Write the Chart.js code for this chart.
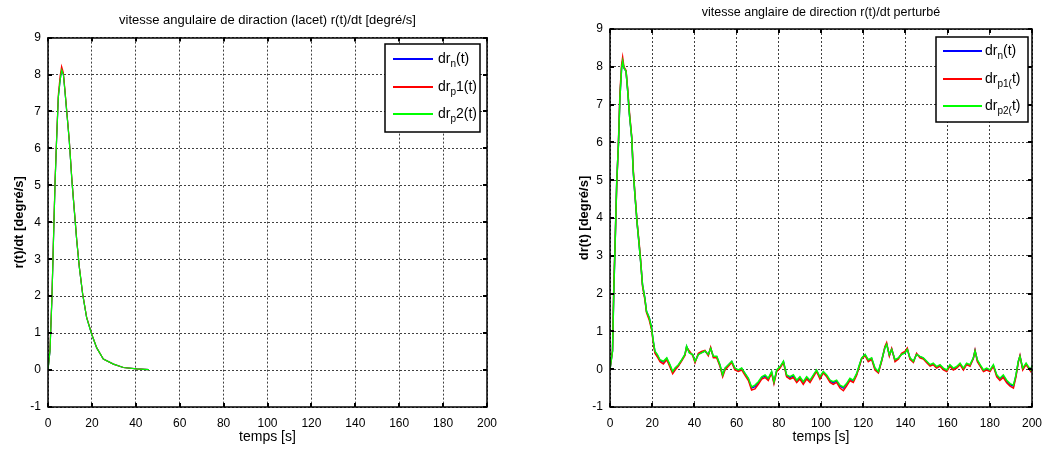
<!DOCTYPE html>
<html><head><meta charset="utf-8">
<script src="https://cdn.jsdelivr.net/npm/chart.js@4"></script>
<style>
html,body{margin:0;padding:0;background:#fff;width:1044px;height:449px;overflow:hidden}
#c1{position:absolute;left:0;top:0}
#c2{position:absolute;left:540px;top:0}
</style></head><body>
<canvas id="c1" width="520" height="449"></canvas>
<canvas id="c2" width="504" height="449"></canvas>
<script>
// ---------- data ----------
const xMin = 0, xMax = 200, xStep = 20;
const yMin = -1, yMax = 9, yStep = 1;

const leftTitle = "vitesse angulaire de diraction (lacet) r(t)/dt [degré/s]";
const rightTitle = "vitesse anglaire de direction r(t)/dt perturbé";
const xLabel = "temps [s]";
const leftYLabel = "r(t)/dt [degré/s]";
const rightYLabel = "dr(t) [degré/s]";

const leftLegend = [["dr","n","(t)"],["dr","p","1(t)"],["dr","p","2(t)"]];
const rightLegend = [["dr","n","(t)"],["dr","p1(","t)"],["dr","p2(","t)"]];

const leftT  = [0,0.9,1.8,2.4,3.2,3.9,4.7,5.5,6.2,7.0,7.7,8.5,9.7,10.9,12,13.1,14.3,15.8,17.6,19.9,22.2,25.2,29.8,34.3,40.4,46];
const leftN  = [0,0.51,1.96,3.3,5.03,6.2,7.38,7.83,8.12,8.0,7.56,7.02,6.2,5.12,4.31,3.5,2.77,2.05,1.42,0.97,0.6,0.3,0.16,0.07,0.03,0.01];
const leftP1 = [0,0.55,2.0,3.35,5.1,6.25,7.45,7.95,8.22,8.05,7.6,7.05,6.22,5.15,4.33,3.52,2.78,2.06,1.43,0.98,0.6,0.3,0.16,0.07,0.03,0.01];
const leftP2 = [0,0.51,1.96,3.3,5.03,6.2,7.38,7.83,8.12,8.0,7.56,7.02,6.2,5.12,4.31,3.5,2.77,2.05,1.42,0.97,0.6,0.3,0.16,0.07,0.03,0.01];

const rightT = [0,0.3,1.2,1.8,2.5,3.2,4,4.7,5.5,6,6.6,7.6,8.4,9.2,10.3,11,11.8,12.9,13.8,14.5,15.4,16.5,17.3,18.6,19.7,
 20.5,21.3,22.4,23.7,25.3,26.9,28.4,29.7,30.8,32.4,
 34,35.5,36.3,37.6,39.2,40.3,41.9,43.4,45,46.6,
 47.7,49,50.6,52.1,53.4,54.5,56.1,57.7,59.2,60.8,
 62.4,64,65.6,67.1,68.7,70.3,71.9,73.5,75,76.6,
 77.7,79,80.6,82.2,83.7,85.3,86.9,88.5,90,91.6,
 93.2,94.8,96.4,97.9,99.5,101.1,102.7,104.3,105.8,107.4,
 109,110.6,112.1,113.7,115.3,116.9,118.2,119.3,120.9,122.4,
 124,125.6,127.2,128.8,130.3,131.1,132.4,133.5,135.1,136.7,
 138.2,139.8,140.9,142.2,143.8,145.3,146.9,148.5,150.1,151.7,
 153.2,154.8,156.4,158,159.6,161.1,162.7,164.3,165.9,167.5,
 169,170.6,172.2,173,174.1,175.4,177,178.5,180.1,181.7,
 183.3,184.8,186.4,188,189.6,191.2,192.4,193.5,194.3,195.6,
 197.2,198.3,199.4,200];
const rightP2 = [0,0,0.48,2.06,3.47,4.97,5.95,7.18,7.97,8.15,7.97,7.88,7.35,6.74,6.12,5.24,4.62,3.83,3.3,2.86,2.24,1.89,1.53,1.36,1.09,
 0.75,0.48,0.39,0.25,0.21,0.3,0.12,-0.06,0.03,0.12,
 0.25,0.39,0.61,0.43,0.39,0.21,0.39,0.43,0.48,0.39,
 0.55,0.34,0.34,0.12,-0.15,0.03,0.12,0.21,0.03,-0.02,
 0.03,-0.11,-0.24,-0.47,-0.42,-0.33,-0.2,-0.15,-0.24,-0.06,
 -0.33,-0.02,0.07,0.21,-0.15,-0.2,-0.15,-0.29,-0.2,-0.33,
 -0.2,-0.29,-0.15,-0.02,-0.2,-0.06,-0.15,-0.29,-0.33,-0.29,
 -0.42,-0.47,-0.38,-0.24,-0.29,-0.11,0.12,0.3,0.39,0.25,
 0.3,0.03,-0.06,0.25,0.57,0.66,0.39,0.52,0.25,0.3,
 0.39,0.43,0.52,0.3,0.21,0.39,0.34,0.3,0.21,0.12,
 0.16,0.07,0.12,0.03,-0.02,0.12,0.03,0.07,0.16,0.03,
 0.16,0.12,0.3,0.48,0.25,0.12,-0.02,0.03,-0.02,0.12,
 -0.15,-0.24,-0.15,-0.29,-0.38,-0.42,-0.15,0.21,0.34,0.03,
 0.16,0.07,-0.02,0.1];
const rightP1 = [0,0,0.5,2.2,3.5,4.9,6.0,7.3,8.05,8.25,8.0,7.9,7.4,6.8,6.15,5.3,4.65,3.85,3.35,2.9,2.2,1.85,1.5,1.3,1.05,
 0.7,0.42,0.33,0.2,0.14,0.25,0.06,-0.12,-0.03,0.08,
 0.22,0.36,0.58,0.48,0.36,0.17,0.42,0.47,0.5,0.36,
 0.58,0.3,0.3,0.08,-0.2,-0.02,0.08,0.18,-0.02,-0.06,
 -0.02,-0.16,-0.3,-0.55,-0.52,-0.4,-0.26,-0.22,-0.3,-0.1,
 -0.38,-0.06,0.03,0.18,-0.2,-0.26,-0.22,-0.35,-0.26,-0.4,
 -0.26,-0.35,-0.2,-0.06,-0.26,-0.1,-0.2,-0.35,-0.4,-0.35,
 -0.5,-0.57,-0.45,-0.3,-0.35,-0.16,0.08,0.28,0.36,0.2,
 0.26,-0.02,-0.1,0.22,0.6,0.7,0.35,0.55,0.2,0.27,
 0.42,0.47,0.56,0.26,0.18,0.42,0.3,0.27,0.17,0.08,
 0.12,0.03,0.08,-0.02,-0.06,0.08,-0.02,0.03,0.12,-0.02,
 0.12,0.08,0.28,0.5,0.2,0.08,-0.06,-0.02,-0.06,0.08,
 -0.2,-0.3,-0.22,-0.36,-0.45,-0.5,-0.2,0.18,0.36,-0.02,
 0.12,0.03,-0.06,0.08];
const rightN = [0,0,0.48,2.06,3.47,4.97,5.95,7.18,7.97,8.15,7.97,7.88,7.35,6.74,6.12,5.24,4.62,3.83,3.3,2.86,2.24,1.89,1.53,1.36,1.09,
 0.74,0.46,0.37,0.23,0.19,0.28,0.1,-0.08,0.01,0.1,
 0.24,0.38,0.6,0.44,0.38,0.2,0.4,0.44,0.48,0.38,
 0.56,0.33,0.33,0.11,-0.17,0.02,0.11,0.2,0.02,-0.03,
 0.02,-0.12,-0.26,-0.5,-0.46,-0.36,-0.22,-0.18,-0.26,-0.08,
 -0.35,-0.04,0.05,0.2,-0.17,-0.22,-0.18,-0.31,-0.22,-0.35,
 -0.22,-0.31,-0.17,-0.04,-0.22,-0.08,-0.17,-0.31,-0.36,-0.31,
 -0.45,-0.5,-0.4,-0.26,-0.31,-0.13,0.1,0.29,0.38,0.23,
 0.28,0.01,-0.08,0.24,0.58,0.67,0.37,0.53,0.23,0.29,
 0.4,0.44,0.53,0.28,0.2,0.4,0.33,0.29,0.2,0.1,
 0.14,0.05,0.1,0.01,-0.04,0.1,0.01,0.05,0.14,0.01,
 0.14,0.1,0.29,0.49,0.23,0.1,-0.04,0.01,-0.04,0.1,
 -0.17,-0.26,-0.18,-0.32,-0.41,-0.45,-0.17,0.2,0.35,0.01,
 0.14,0.05,-0.04,0.09];

// ---------- helpers ----------
const FONT = '"Liberation Sans", Arial, sans-serif';
Chart.defaults.font.family = FONT;
Chart.defaults.color = '#000';
const COLORS = ['rgb(0,0,255)', 'rgb(255,0,0)', 'rgb(0,255,0)'];

function pts(t, v) { return t.map((tt, i) => ({x: tt, y: v[i]})); }

function makeFrame(box, legend) {
  return {
    id: 'frame',
    afterDraw(chart) {
      const {ctx, chartArea: a, scales: {x, y}} = chart;
      ctx.save();
      ctx.setLineDash([]);
      ctx.strokeStyle = '#000';
      ctx.lineWidth = 1.5;
      ctx.strokeRect(Math.round(a.left), Math.round(a.top), Math.round(a.right - a.left), Math.round(a.bottom - a.top));
      const L = 4;
      ctx.lineWidth = 2;
      ctx.beginPath();
      x.ticks.forEach(t => {
        const px = Math.round(x.getPixelForValue(t.value));
        ctx.moveTo(px, a.bottom); ctx.lineTo(px, a.bottom - L);
        ctx.moveTo(px, a.top); ctx.lineTo(px, a.top + L);
      });
      y.ticks.forEach(t => {
        const py = Math.round(y.getPixelForValue(t.value));
        ctx.moveTo(a.left, py); ctx.lineTo(a.left + L, py);
        ctx.moveTo(a.right, py); ctx.lineTo(a.right - L, py);
      });
      ctx.stroke();
      // legend box
      const bx = Math.round(a.right - box.dx - box.w), by = Math.round(a.top + box.dy);
      ctx.fillStyle = '#fff';
      ctx.fillRect(bx, by, box.w, box.h);
      ctx.lineWidth = 1.5;
      ctx.strokeStyle = '#000';
      ctx.strokeRect(bx, by, box.w, box.h);
      legend.forEach((lab, i) => {
        const yy = Math.round(by + box.row0 + i * box.gap);
        ctx.fillStyle = COLORS[i];
        ctx.fillRect(bx + box.lx, yy - 1, box.len, 2);
        ctx.fillStyle = '#000';
        ctx.textBaseline = 'middle';
        ctx.textAlign = 'left';
        let tx = bx + box.tx;
        ctx.font = box.fs + 'px ' + FONT;
        ctx.fillText(lab[0], tx, yy); tx += ctx.measureText(lab[0]).width;
        ctx.font = box.ss + 'px ' + FONT;
        ctx.fillText(lab[1], tx, yy + 5); tx += ctx.measureText(lab[1]).width;
        ctx.font = box.fs + 'px ' + FONT;
        ctx.fillText(lab[2], tx, yy);
      });
      ctx.restore();
    }
  };
}

function makeChart(id, cfg) {
  const datasets = [
    {label: 'n',  data: pts(cfg.t, cfg.n),  borderColor: COLORS[0], order: 2},
    {label: 'p1', data: pts(cfg.t, cfg.p1), borderColor: COLORS[1], order: 1},
    {label: 'p2', data: pts(cfg.t, cfg.p2), borderColor: COLORS[2], order: 0}
  ].map(d => Object.assign(d, {borderWidth: cfg.lw, pointRadius: 0, tension: 0, fill: false}));
  const gridOpts = {color: 'rgba(0,0,0,0.75)', lineWidth: 1, drawTicks: false};
  return new Chart(document.getElementById(id), {
    type: 'line',
    data: {datasets},
    options: {
      responsive: false,
      animation: false,
      events: [],
      layout: {padding: {left: 0, right: cfg.padRight, top: 0, bottom: 0}},
      plugins: {
        legend: {display: false},
        tooltip: {enabled: false},
        title: {display: true, fullSize: false, text: cfg.title, color: '#000',
          font: {size: cfg.titleSize, weight: 'normal', family: FONT, lineHeight: 1.2},
          padding: {top: cfg.titleTop, bottom: cfg.titleBottom}}
      },
      scales: {
        x: {type: 'linear', min: xMin, max: xMax,
          ticks: {stepSize: xStep, padding: 9, font: {size: 12}, color: '#000', maxRotation: 0},
          grid: gridOpts, border: {display: false, dash: [2, 2]},
          title: {display: true, text: xLabel, font: {size: 14, lineHeight: 1.2}, color: '#000', padding: {top: 0, bottom: 3}},
          afterFit: s => { s.height = 42; s.paddingLeft = 0; s.paddingRight = 0; }},
        y: {type: 'linear', min: yMin, max: yMax,
          ticks: {stepSize: yStep, padding: 7, font: {size: 12}, color: '#000'},
          grid: gridOpts, border: {display: false, dash: [2, 2]},
          title: {display: true, text: cfg.yLabel, font: {size: 13, weight: 'bold', lineHeight: 1.2}, color: '#000', padding: {top: cfg.yTitlePad, bottom: 0}},
          afterFit: s => { s.width = cfg.yWidth; }}
      }
    },
    plugins: [makeFrame(cfg.box, cfg.legend)]
  });
}

makeChart('c1', {t: leftT, n: leftN, p1: leftP1, p2: leftP2, lw: 1.2,
  title: leftTitle, titleSize: 13, titleTop: 13, titleBottom: 9, padRight: 33, yWidth: 48, yTitlePad: 12,
  yLabel: leftYLabel, legend: leftLegend,
  box: {dx: 7, dy: 6, w: 95, h: 88, lx: 8, len: 40, tx: 53, row0: 15, gap: 27.5, fs: 14, ss: 10}});

makeChart('c2', {t: rightT, n: rightN, p1: rightP1, p2: rightP2, lw: 1.5,
  title: rightTitle, titleSize: 12.5, titleTop: 5, titleBottom: 9, padRight: 12, yWidth: 70, yTitlePad: 37,
  yLabel: rightYLabel, legend: rightLegend,
  box: {dx: 4, dy: 8, w: 92, h: 85, lx: 7, len: 39, tx: 49, row0: 14, gap: 27.5, fs: 14, ss: 10}});
</script>
</body></html>
